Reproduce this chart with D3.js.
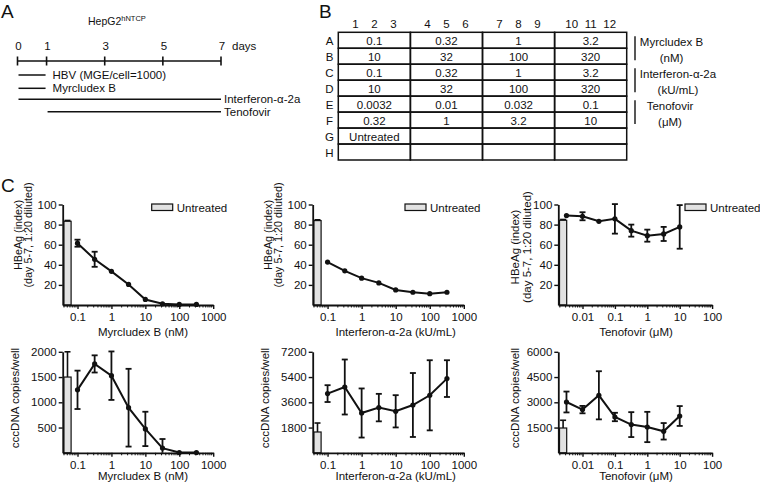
<!DOCTYPE html>
<html><head><meta charset="utf-8">
<script src="https://cdn.jsdelivr.net/npm/d3@7"></script>
<style>
body{margin:0;background:#fff}
svg{display:block}
text{font-family:"Liberation Sans",Arial,Helvetica,sans-serif;fill:#111}
</style>
</head><body>
<svg id="chart" width="760" height="486"></svg>
<script>
// ================= DATA =================
// Panel A: timeline
const timelineDays = [0, 1, 3, 5, 7];
const treatmentNames = ["HBV (MGE/cell=1000)", "Myrcludex B", "Interferon-α-2a", "Tenofovir"];
const treatmentStart = [0, 0, 0, 1];
const treatmentEnd = [1, 1, 7, 7];

// Panel B: plate layout
const plateColumns = [1, 2, 3, 4, 5, 6, 7, 8, 9, 10, 11, 12];
const plateRows = ["A", "B", "C", "D", "E", "F", "G", "H"];
const plateCells = [
  ["0.1", "0.32", "1", "3.2"],
  ["10", "32", "100", "320"],
  ["0.1", "0.32", "1", "3.2"],
  ["10", "32", "100", "320"],
  ["0.0032", "0.01", "0.032", "0.1"],
  ["0.32", "1", "3.2", "10"],
  ["Untreated", "", "", ""],
  ["", "", "", ""]
];
const plateGroupNames = ["Myrcludex B", "Interferon-α-2a", "Tenofovir"];
const plateGroupUnits = ["(nM)", "(kU/mL)", "(μM)"];
const plateGroupRows = [["A", "B"], ["C", "D"], ["E", "F"]];

// Panel C: dose-response
const drugTitles = ["Myrcludex B (nM)", "Interferon-α-2a (kU/mL)", "Tenofovir (μM)"];
const mxbConc = [0.1, 0.32, 1, 3.2, 10, 32, 100, 320];
const ifnConc = [0.1, 0.32, 1, 3.2, 10, 32, 100, 320];
const tdfConc = [0.0032, 0.01, 0.032, 0.1, 0.32, 1, 3.2, 10];

const mxbHBeAg = [61.5, 45.5, 33.5, 20.5, 5.5, 1.2, 0.6, 0.6];
const mxbHBeAgErr = [3.5, 7.5, 0.8, 0.8, 0.8, 0.5, 0.5, 0.5];
const ifnHBeAg = [42.7, 34.0, 26.7, 22.0, 15.0, 12.7, 11.3, 12.7];
const ifnHBeAgErr = [0.8, 0.8, 0.8, 0.8, 0.8, 0.8, 0.8, 0.8];
const tdfHBeAg = [89.0, 88.3, 83.3, 85.7, 74.0, 69.0, 70.7, 77.7];
const tdfHBeAgErr = [0.5, 4.0, 0.8, 14.7, 6.0, 6.0, 7.0, 21.7];

const mxbCcc = [1247, 1760, 1527, 893, 473, 93, 5, 5];
const mxbCccErr = [380, 170, 480, 770, 340, 180, 0, 0];
const ifnCcc = [4220, 4690, 2837, 3222, 2958, 3408, 4099, 5289];
const ifnCccErr = [600, 1960, 1750, 980, 1150, 2280, 2500, 1310];
const tdfCcc = [3018, 2566, 3416, 2127, 1675, 1533, 1277, 2186];
const tdfCccErr = [620, 220, 1430, 250, 740, 900, 490, 590];

const untreatedHBeAg = [83.3, 84.0, 84.3];
const untreatedHBeAgErr = [0.8, 0.8, 0.8];
const untreatedCcc = [1500, 1483, 1473];
const untreatedCccErr = [500, 640, 460];

const hbeagTicks = [20, 40, 60, 80, 100];
const cccTicks = [[500, 1000, 1500, 2000], [1800, 3600, 5400, 7200], [1500, 3000, 4500, 6000]];
const cccMax = [2000, 7200, 6000];
const xTickValues = [[0.1, 1, 10, 100, 1000], [0.1, 1, 10, 100, 1000], [0.01, 0.1, 1, 10, 100]];
const xTickLabels = [["0.1", "1", "10", "100", "1000"], ["0.1", "1", "10", "100", "1000"], ["0.01", "0.1", "1", "10", "100"]];
const xDomains = [[0.0366, 1000], [0.0366, 1000], [0.00179, 100]];
const legendLabel = "Untreated";
const hbeagTitle = ["HBeAg (index)", "(day 5-7, 1:20 diluted)"];
const cccTitle = "cccDNA copies/well";

// ================= DRAWING =================
const svg = d3.select("#chart");
const ink = "#111";

// Panel letters
svg.append("text").attr("x", 1).attr("y", 18).attr("font-size", 19).text("A");
svg.append("text").attr("x", 319).attr("y", 18).attr("font-size", 19).text("B");
svg.append("text").attr("x", 1).attr("y", 192).attr("font-size", 19).text("C");

// ---------- Panel A ----------
const dayX = d3.scaleLinear().domain([0, 7]).range([17.5, 221]);
const hep = svg.append("text").attr("x", 88).attr("y", 25).attr("font-size", 10.5);
hep.append("tspan").text("HepG2");
hep.append("tspan").attr("font-size", 7.5).attr("dy", -4).text("hNTCP");

const tlY = 61;
svg.append("line").attr("x1", dayX(0)).attr("x2", dayX(7)).attr("y1", tlY).attr("y2", tlY)
  .attr("stroke", ink).attr("stroke-width", 1.6);
svg.selectAll(".dtick").data(timelineDays).join("line")
  .attr("x1", d => dayX(d)).attr("x2", d => dayX(d)).attr("y1", tlY - 4.5).attr("y2", tlY + 4.5)
  .attr("stroke", ink).attr("stroke-width", 1.6);
svg.selectAll(".dlab").data(timelineDays).join("text")
  .attr("x", d => dayX(d) + 1).attr("y", 50).attr("text-anchor", "middle").attr("font-size", 11.5).text(d => d);
svg.append("text").attr("x", dayX(7) + 11).attr("y", 50).attr("font-size", 11.5).text("days");

const trRowY = [75, 88.3, 99.3, 111.7];
treatmentNames.forEach((name, i) => {
  const y = trRowY[i];
  const x1 = dayX(treatmentStart[i]) + 1, x2 = dayX(treatmentEnd[i]) - (treatmentEnd[i] < 7 ? 1 : 0);
  svg.append("line").attr("x1", x1).attr("x2", x2).attr("y1", y).attr("y2", y)
    .attr("stroke", ink).attr("stroke-width", 1.5);
  svg.append("text").attr("x", x2 + (treatmentEnd[i] < 7 ? 7 : 3)).attr("y", y)
    .attr("dominant-baseline", "central").attr("font-size", 11.5).text(name);
});

// ---------- Panel B ----------
const groupX = d3.scaleLinear().domain([0, 4]).range([338.3, 626.7]);
const rowY = d3.scaleBand().domain(plateRows).range([32.3, 160]);
const gW = groupX(1) - groupX(0);
const pb = svg.append("g");
plateRows.forEach((r, ri) => {
  for (let g = 0; g < 4; g++) {
    pb.append("rect").attr("x", groupX(g)).attr("y", rowY(r)).attr("width", gW).attr("height", rowY.bandwidth())
      .attr("fill", "none").attr("stroke", ink).attr("stroke-width", 1.5);
    const v = plateCells[ri][g];
    if (v) pb.append("text").attr("x", groupX(g) + gW / 2).attr("y", rowY(r) + rowY.bandwidth() / 2 + 0.5)
      .attr("text-anchor", "middle").attr("dominant-baseline", "central").attr("font-size", 11.5).text(v);
  }
  pb.append("text").attr("x", 329.5).attr("y", rowY(r) + rowY.bandwidth() / 2 + 0.5)
    .attr("text-anchor", "middle").attr("dominant-baseline", "central").attr("font-size", 11.5).text(r);
});
plateColumns.forEach((c, i) => {
  const g = Math.floor(i / 3), k = i % 3;
  const sub = d3.scalePoint().domain([0, 1, 2]).range([groupX(g) + gW / 2 - 19, groupX(g) + gW / 2 + 19]);
  pb.append("text").attr("x", sub(k)).attr("y", 24).attr("text-anchor", "middle")
    .attr("dominant-baseline", "central").attr("font-size", 11.5).text(c);
});
plateGroupNames.forEach((name, i) => {
  const rs = plateGroupRows[i];
  const yTop = rowY(rs[0]) + 4, yBot = rowY(rs[1]) + rowY.bandwidth() - 4;
  pb.append("line").attr("x1", 635).attr("x2", 635).attr("y1", yTop).attr("y2", yBot)
    .attr("stroke", ink).attr("stroke-width", 1.4);
  const cx = [671.5, 678, 670][i];
  pb.append("text").attr("x", cx).attr("y", rowY(rs[0]) + rowY.bandwidth() / 2 + 2)
    .attr("text-anchor", "middle").attr("dominant-baseline", "central").attr("font-size", 11.5).text(name);
  pb.append("text").attr("x", cx).attr("y", rowY(rs[1]) + rowY.bandwidth() / 2 + 2)
    .attr("text-anchor", "middle").attr("dominant-baseline", "central").attr("font-size", 11.5).text(plateGroupUnits[i]);
});

// ---------- Panel C ----------
const panelX0 = [62.7, 312.7, 558.3];
const panelX1 = [213.2, 463.8, 712.1];
const titleCx = [143, 395.7, 636];
const legendX = [151.7, 405, 685];
const concs = [mxbConc, ifnConc, tdfConc];
const hbeag = [mxbHBeAg, ifnHBeAg, tdfHBeAg];
const hbeagErr = [mxbHBeAgErr, ifnHBeAgErr, tdfHBeAgErr];
const ccc = [mxbCcc, ifnCcc, tdfCcc];
const cccErr = [mxbCccErr, ifnCccErr, tdfCccErr];

function minorTicks(dom) {
  const out = [];
  const lo = Math.floor(Math.log10(dom[0])), hi = Math.ceil(Math.log10(dom[1]));
  for (let e = lo; e < hi; e++) for (let k = 2; k <= 9; k++) {
    const v = k * Math.pow(10, e);
    if (v >= dom[0] && v <= dom[1]) out.push(v);
  }
  return out;
}

function drawPanel(p, row) {
  const top = row === 0;
  const yR = top ? [305, 204.5] : [452.8, 351.8];
  const yMax = top ? 100 : cccMax[p];
  const x = d3.scaleLog().domain(xDomains[p]).range([panelX0[p], panelX1[p]]);
  const y = d3.scaleLinear().domain([0, yMax]).range(yR);
  const vals = top ? hbeag[p] : ccc[p];
  const errs = top ? hbeagErr[p] : cccErr[p];
  const uVal = top ? untreatedHBeAg[p] : untreatedCcc[p];
  const uErr = top ? untreatedHBeAgErr[p] : untreatedCccErr[p];
  const g = svg.append("g");

  // untreated bar (error up, then bar)
  const bx = panelX0[p] + 1.2, bw = 7.2;
  g.append("line").attr("x1", bx + bw / 2).attr("x2", bx + bw / 2).attr("y1", y(uVal)).attr("y2", y(uVal + uErr))
    .attr("stroke", ink).attr("stroke-width", 1.6);
  g.append("line").attr("x1", bx + bw / 2 - 3).attr("x2", bx + bw / 2 + 3).attr("y1", y(uVal + uErr)).attr("y2", y(uVal + uErr))
    .attr("stroke", ink).attr("stroke-width", 1.6);
  g.append("rect").attr("x", bx).attr("y", y(uVal)).attr("width", bw).attr("height", y(0) - y(uVal))
    .attr("fill", "#e2e2e2").attr("stroke", ink).attr("stroke-width", 1.2);

  // axes
  const ya = d3.axisLeft(y).tickValues(top ? hbeagTicks : cccTicks[p]).tickFormat(d3.format("d"))
    .tickSize(4).tickSizeOuter(0).tickPadding(2);
  const yg = g.append("g").attr("transform", `translate(${panelX0[p]},0)`).call(ya);
  const xa = d3.axisBottom(x).tickValues(xTickValues[p]).tickFormat((d, i) => xTickLabels[p][i])
    .tickSize(4).tickSizeOuter(0).tickPadding(4);
  const xg = g.append("g").attr("transform", `translate(0,${yR[0]})`).call(xa);
  const mg = g.append("g").attr("transform", `translate(0,${yR[0]})`);
  mg.selectAll("line").data(minorTicks(xDomains[p])).join("line")
    .attr("x1", d => x(d)).attr("x2", d => x(d)).attr("y1", 0).attr("y2", 2.5)
    .attr("stroke", ink).attr("stroke-width", 1);
  [yg, xg].forEach(a => {
    a.select(".domain").attr("stroke", ink).attr("stroke-width", 1.8);
    a.selectAll(".tick line").attr("stroke", ink).attr("stroke-width", 1.4);
    a.selectAll(".tick text").attr("font-family", "Liberation Sans, Arial, sans-serif").attr("font-size", 11.5).attr("fill", ink);
  });

  // error bars
  const conc = concs[p];
  conc.forEach((c, i) => {
    const e = errs[i];
    if (e <= 0) return;
    const lo = Math.max(0, vals[i] - e), hi = vals[i] + e;
    const cx = x(c);
    g.append("line").attr("x1", cx).attr("x2", cx).attr("y1", y(lo)).attr("y2", y(hi)).attr("stroke", ink).attr("stroke-width", 1.8);
    if (e > (top ? 1.5 : 60)) {
      g.append("line").attr("x1", cx - 3).attr("x2", cx + 3).attr("y1", y(hi)).attr("y2", y(hi)).attr("stroke", ink).attr("stroke-width", 1.8);
      if (vals[i] - e > 0) g.append("line").attr("x1", cx - 3).attr("x2", cx + 3).attr("y1", y(lo)).attr("y2", y(lo)).attr("stroke", ink).attr("stroke-width", 1.8);
    }
  });
  // line + points
  const line = d3.line().x((d, i) => x(conc[i])).y(d => y(d));
  g.append("path").datum(vals).attr("d", line).attr("fill", "none").attr("stroke", ink).attr("stroke-width", 2);
  g.selectAll("circle.pt").data(vals).join("circle").attr("class", "pt")
    .attr("cx", (d, i) => x(conc[i])).attr("cy", d => y(d)).attr("r", 2.6).attr("fill", ink);

  // x title
  g.append("text").attr("x", titleCx[p]).attr("y", top ? 336 : 480).attr("text-anchor", "middle")
    .attr("font-size", 11.5).text(drugTitles[p]);

  // y title
  if (top) {
    const lx = panelX0[p] - (p === 2 ? 43 : 44.4);
    const cy = p === 2 ? 247 : 235;
    const fs = p === 2 ? 11.5 : 10.8;
    const sp = p === 2 ? 11.5 : 10;
    hbeagTitle.forEach((t, k) => {
      g.append("text").attr("transform", `translate(${lx + k * sp},${cy}) rotate(-90)`)
        .attr("text-anchor", "middle").attr("dominant-baseline", "central").attr("font-size", fs).text(t);
    });
    // legend
    g.append("rect").attr("x", legendX[p]).attr("y", 204).attr("width", 21).attr("height", 6.5)
      .attr("fill", "#e2e2e2").attr("stroke", ink).attr("stroke-width", 1.2);
    g.append("text").attr("x", legendX[p] + 25).attr("y", 207.5).attr("dominant-baseline", "central")
      .attr("font-size", 11.5).text(legendLabel);
  } else {
    const lx = panelX0[p] - (p === 2 ? 43 : 47.7);
    g.append("text").attr("transform", `translate(${lx},398) rotate(-90)`)
      .attr("text-anchor", "middle").attr("dominant-baseline", "central").attr("font-size", 11.5).text(cccTitle);
  }
}
[0, 1, 2].forEach(p => { drawPanel(p, 0); drawPanel(p, 1); });
</script>
</body></html>
